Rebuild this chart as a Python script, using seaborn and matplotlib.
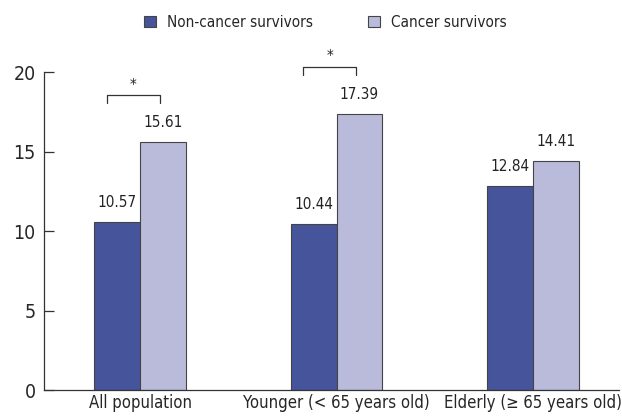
import numpy as np
import pandas as pd
import matplotlib
matplotlib.use('Agg')
import matplotlib.pyplot as plt
import seaborn as sns
from matplotlib.patches import Patch

# data
groups = ['All population', 'Younger (< 65 years old)', 'Elderly (\u2265 65 years old)']
non_cancer = [10.57, 10.44, 12.84]
cancer = [15.61, 17.39, 14.41]
series = ['Non-cancer survivors', 'Cancer survivors']
signif = [True, True, False]

df = pd.DataFrame({
    'group': groups * 2,
    'series': [series[0]] * 3 + [series[1]] * 3,
    'value': non_cancer + cancer,
})

sns.set_style('white')
plt.rcParams['font.family'] = ['DejaVu Sans']
plt.rcParams['font.stretch'] = 'condensed'

fig = plt.figure(figsize=(6.22, 4.2), dpi=100)
ax = fig.add_axes([0.0707, 0.0714, 0.925, 0.757])

palette = {series[0]: '#45549b', series[1]: '#babbdb'}
sns.barplot(data=df, x='group', y='value', hue='series', palette=palette,
            width=0.467, edgecolor='#444444', linewidth=0.8, saturation=1,
            legend=False, ax=ax)

# value labels
for i in range(3):
    for j, vals in enumerate([non_cancer, cancer]):
        xpos = i + (j - 0.5) * 0.2335
        ax.text(xpos, vals[i] + 0.75, f'{vals[i]:.2f}', ha='center', va='bottom',
                fontsize=11, color='#222222')

# significance brackets
for i in range(3):
    if not signif[i]:
        continue
    top = max(non_cancer[i], cancer[i]) + 2.95
    x0, x1 = i - 0.17, i + 0.1
    ax.plot([x0, x0, x1, x1], [top - 0.5, top, top, top - 0.5], color='#333333',
            lw=0.9, clip_on=False)
    ax.text((x0 + x1) / 2, top + 0.15, '*', ha='center', va='bottom', fontsize=11,
            color='#222222')

ax.set_xlim(-0.49, 2.44)
ax.set_ylim(0, 20)
ax.set_yticks([0, 5, 10, 15, 20])
ax.set_xlabel('')
ax.set_ylabel('')
for s in ['top', 'right']:
    ax.spines[s].set_visible(False)
for s in ['left', 'bottom']:
    ax.spines[s].set_color('#333333')
    ax.spines[s].set_linewidth(0.9)
ax.tick_params(axis='y', direction='in', length=7, width=0.9, color='#333333',
               labelsize=14, pad=6, left=True)
ax.tick_params(axis='x', length=0, labelsize=12, pad=3)

# legend
handles = [Patch(facecolor=palette[s], edgecolor='#444444', linewidth=0.8, label=s)
           for s in series]
fig.legend(handles=handles, loc='center', bbox_to_anchor=(0.523, 0.947), ncol=2,
           frameon=False, fontsize=11, handlelength=0.8, handleheight=0.8,
           columnspacing=3.6, handletextpad=0.7)

fig.savefig('out.png', dpi=100)
